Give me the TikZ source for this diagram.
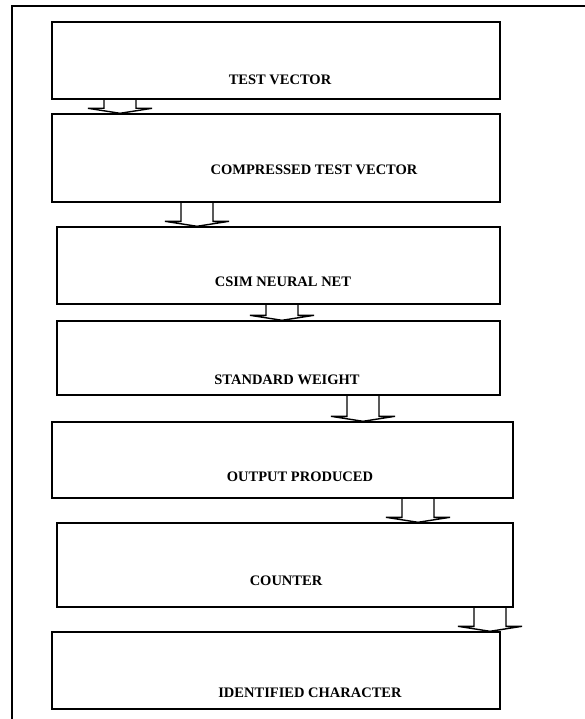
\documentclass[tikz,border=0pt]{standalone}
\usepackage{fontspec}
\setmainfont{Liberation Serif}
\usetikzlibrary{calc}
\tikzset{
  box/.style={draw, line width=1.4pt, rectangle, inner sep=0pt},
  lbl/.style={font=\bfseries\fontsize{14.5}{16}\selectfont, inner sep=0pt, anchor=base},
  hollow/.style={draw, line width=1.4pt, line join=miter},
}
% block arrow: #1 = x of its shaft, #2 = box above, #3 = box below
\newcommand{\hollowdown}[3]{%
  \draw[hollow] (#1-16,0 |- #2.south) -- ($(#1-16,0 |- #3.north)+(0,-5)$)
    -- ++(-16,0) -- (#1,0 |- #3.north) -- ($(#1+32,0 |- #3.north)+(0,-5)$)
    -- ++(-16,0) -- (#1+16,0 |- #2.south);}
\begin{document}
\begin{tikzpicture}[x=1pt, y=-1pt]
    \useasboundingbox (0,0) rectangle (585,719);
    \draw[line width=1.2pt] (12,730) -- (12,6) -- (590,6);
    \node [box, minimum width=448pt, minimum height=77pt] (test) at (276,60.5) {};
    \node [box, minimum width=448pt, minimum height=88pt] (comp) at (276,158) {};
    \node [box, minimum width=443pt, minimum height=77pt] (csim) at (278.5,265.5) {};
    \node [box, minimum width=443pt, minimum height=74pt] (std) at (278.5,358) {};
    \node [box, minimum width=461pt, minimum height=76pt] (out) at (282.5,460) {};
    \node [box, minimum width=456pt, minimum height=84pt] (cnt) at (285,565) {};
    \node [box, minimum width=448pt, minimum height=77pt] (ident) at (276,670.5) {};
    \node [lbl] (ltest) at (280,85) {TEST VECTOR};
    \node [lbl] (lcomp) at (314,175) {COMPRESSED TEST VECTOR};
    \node [lbl] (lcsim) at (283,286) {CSIM NEURAL NET};
    \node [lbl] (lstd) at (287,384) {STANDARD WEIGHT};
    \node [lbl] (lout) at (300,481) {OUTPUT PRODUCED};
    \node [lbl] (lcnt) at (286,585) {COUNTER};
    \node [lbl] (lident) at (310,697) {IDENTIFIED CHARACTER};
    \hollowdown{120}{test}{comp}
    \hollowdown{197}{comp}{csim}
    \hollowdown{282}{csim}{std}
    \hollowdown{363}{std}{out}
    \hollowdown{418}{out}{cnt}
    \hollowdown{490}{cnt}{ident}
\end{tikzpicture}
\end{document}
